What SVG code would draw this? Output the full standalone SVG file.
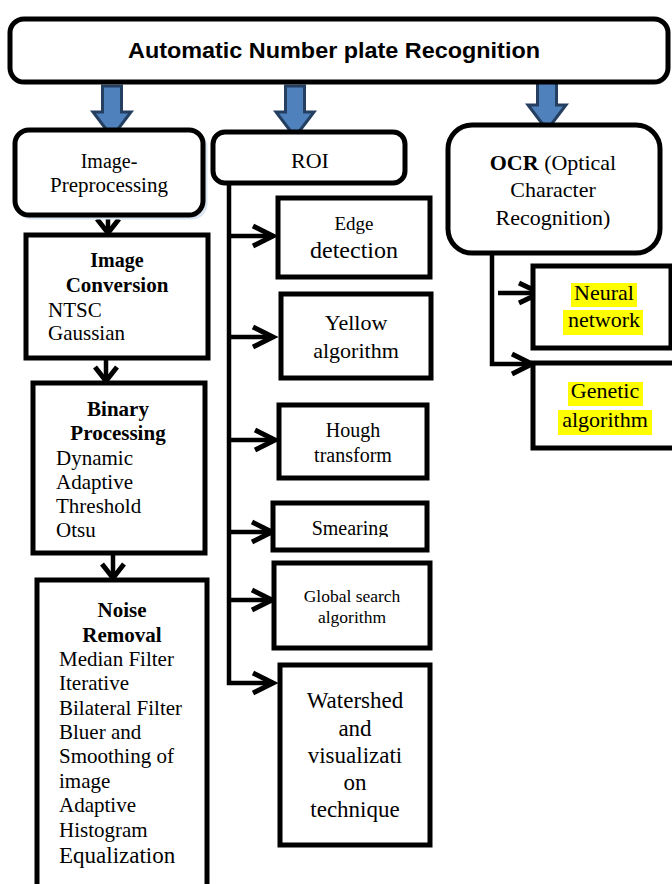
<svg xmlns="http://www.w3.org/2000/svg" width="672" height="884" viewBox="0 0 672 884">
<defs>
<style>
.box{fill:#fff;stroke:#000;stroke-width:5}
.ln{fill:none;stroke:#000;stroke-width:4.5}
.hd{fill:none;stroke:#000;stroke-width:5;stroke-linejoin:miter;stroke-linecap:butt}
.blk{fill:#4f81bd;stroke:#243f60;stroke-width:3;stroke-linejoin:miter}
.t{font-family:"Liberation Serif","Times New Roman",serif;fill:#000}
.c{text-anchor:middle}
.b{font-weight:bold}
.hl{fill:#ffff00}
</style>
<clipPath id="smclip"><rect x="273" y="503" width="154" height="34"/></clipPath>
</defs>

<g id="connectors">
  <path class="blk" d="M102.5 86 H121.5 V112 H131 L112 137 L93 112 H102.5 Z"/>
  <path class="blk" d="M285.5 86 H304.5 V112 H314 L295 137 L276 112 H285.5 Z"/>
  <path class="blk" d="M537.5 80 H556.5 V105 H566 L547 130 L528 105 H537.5 Z"/>
  <path class="ln" d="M108 215 V232"/>
  <path class="hd" d="M97 219 L108 233 L119 219"/>
  <path class="ln" d="M106 358 V380"/>
  <path class="hd" d="M95 367 L106 381 L117 367"/>
  <path class="ln" d="M113 553 V577"/>
  <path class="hd" d="M102 564 L113 578 L124 564"/>
  <path class="ln" d="M229 183 V683 H271"/>
  <path class="ln" d="M229 236 H271"/>
  <path class="ln" d="M229 337 H271"/>
  <path class="ln" d="M229 440 H273"/>
  <path class="ln" d="M229 532 H270"/>
  <path class="ln" d="M229 600 H270"/>
  <path class="hd" d="M253 226 L273 236 L253 246"/>
  <path class="hd" d="M253 327 L273 337 L253 347"/>
  <path class="hd" d="M255 430 L275 440 L255 450"/>
  <path class="hd" d="M252 522 L272 532 L252 542"/>
  <path class="hd" d="M252 590 L272 600 L252 610"/>
  <path class="hd" d="M253 673 L273 683 L253 693"/>
  <path class="ln" d="M492 253 V364 H530"/>
  <path class="hd" d="M512 354 L532 364 L512 374"/>
  <path class="ln" d="M498 293 H538"/>
  <path class="hd" d="M519 283 L540 293 L519 303"/>
</g>

<g id="title">
  <rect class="box" x="10" y="19" width="658" height="63" rx="14"/>
  <text x="334" y="58" text-anchor="middle" font-family="'Liberation Sans',Arial,sans-serif" font-weight="bold" font-size="22" textLength="412" lengthAdjust="spacingAndGlyphs">Automatic Number plate Recognition</text>
</g>

<g id="preprocessing">
  <rect x="18" y="133" width="188" height="85" rx="14" fill="none" stroke="#dbe5f1" stroke-width="3"/>
  <rect class="box" x="15" y="130" width="188" height="85" rx="14"/>
  <text class="t c" x="109" y="168" font-size="20">Image-</text>
  <text class="t c" x="109" y="192" font-size="21">Preprocessing</text>
</g>

<g id="image-conversion">
  <rect class="box" x="26" y="235" width="182" height="123"/>
  <text class="t c b" x="117" y="267" font-size="20">Image</text>
  <text class="t c b" x="117" y="292" font-size="21">Conversion</text>
  <text class="t" x="48" y="317" font-size="21">NTSC</text>
  <text class="t" x="48" y="340" font-size="21">Gaussian</text>
</g>

<g id="binary-processing">
  <rect class="box" x="33" y="383" width="172" height="170"/>
  <text class="t c b" x="118" y="416" font-size="21">Binary</text>
  <text class="t c b" x="118" y="440" font-size="21">Processing</text>
  <text class="t" x="56" y="465" font-size="21">Dynamic</text>
  <text class="t" x="56" y="489" font-size="21">Adaptive</text>
  <text class="t" x="56" y="513" font-size="21">Threshold</text>
  <text class="t" x="56" y="537" font-size="21">Otsu</text>
</g>

<g id="noise-removal">
  <rect class="box" x="37" y="580" width="170" height="330"/>
  <text class="t c b" x="122" y="617" font-size="21">Noise</text>
  <text class="t c b" x="122" y="642" font-size="21">Removal</text>
  <text class="t" x="59" y="666" font-size="21">Median Filter</text>
  <text class="t" x="59" y="690" font-size="21">Iterative</text>
  <text class="t" x="59" y="715" font-size="21">Bilateral Filter</text>
  <text class="t" x="59" y="739" font-size="21">Bluer and</text>
  <text class="t" x="59" y="763" font-size="21">Smoothing of</text>
  <text class="t" x="59" y="788" font-size="21">image</text>
  <text class="t" x="59" y="812" font-size="21">Adaptive</text>
  <text class="t" x="59" y="837" font-size="21">Histogram</text>
  <text class="t" x="59" y="863" font-size="23">Equalization</text>
</g>

<g id="roi">
  <rect class="box" x="213" y="132" width="192" height="51" rx="12"/>
  <text class="t c" x="310" y="168" font-size="22">ROI</text>
</g>

<g id="edge-detection">
  <rect class="box" x="278" y="198" width="152" height="79"/>
  <text class="t c" x="354" y="230" font-size="19">Edge</text>
  <text class="t c" x="354" y="258" font-size="24">detection</text>
</g>

<g id="yellow-algorithm">
  <rect class="box" x="281" y="294" width="150" height="84"/>
  <text class="t c" x="356" y="330" font-size="22">Yellow</text>
  <text class="t c" x="356" y="358" font-size="22">algorithm</text>
</g>

<g id="hough-transform">
  <rect class="box" x="279" y="405" width="148" height="73"/>
  <text class="t c" x="353" y="437" font-size="20">Hough</text>
  <text class="t c" x="353" y="462" font-size="20">transform</text>
</g>

<g id="smearing">
  <rect class="box" x="273" y="503" width="154" height="47"/>
  <text class="t c" x="350" y="535" font-size="20" clip-path="url(#smclip)">Smearing</text>
</g>

<g id="global-search">
  <rect class="box" x="274" y="563" width="156" height="85"/>
  <text class="t c" x="352" y="602" font-size="17.5">Global search</text>
  <text class="t c" x="352" y="623" font-size="17.5">algorithm</text>
</g>

<g id="watershed">
  <rect class="box" x="280" y="665" width="150" height="180"/>
  <text class="t c" x="355" y="708" font-size="23">Watershed</text>
  <text class="t c" x="355" y="736" font-size="23">and</text>
  <text class="t c" x="355" y="763" font-size="23">visualizati</text>
  <text class="t c" x="355" y="790" font-size="23">on</text>
  <text class="t c" x="355" y="817" font-size="23">technique</text>
</g>

<g id="ocr">
  <rect class="box" x="448" y="125" width="212" height="128" rx="24"/>
  <text class="t c" x="553" y="170" font-size="22"><tspan font-weight="bold">OCR</tspan> (Optical</text>
  <text class="t c" x="553" y="197" font-size="22">Character</text>
  <text class="t c" x="553" y="225" font-size="22">Recognition)</text>
</g>

<g id="neural-network">
  <rect class="box" x="533" y="266" width="138" height="82"/>
  <rect class="hl" x="571" y="283" width="66" height="24"/>
  <rect class="hl" x="563" y="310" width="80" height="25"/>
  <text class="t c" x="604" y="300" font-size="22">Neural</text>
  <text class="t c" x="604" y="327" font-size="22">network</text>
</g>

<g id="genetic-algorithm">
  <rect class="box" x="533" y="363" width="150" height="85"/>
  <rect class="hl" x="568" y="382" width="75" height="24"/>
  <rect class="hl" x="558" y="410" width="94" height="25"/>
  <text class="t c" x="605" y="398" font-size="22">Genetic</text>
  <text class="t c" x="605" y="427" font-size="22">algorithm</text>
</g>
</svg>
